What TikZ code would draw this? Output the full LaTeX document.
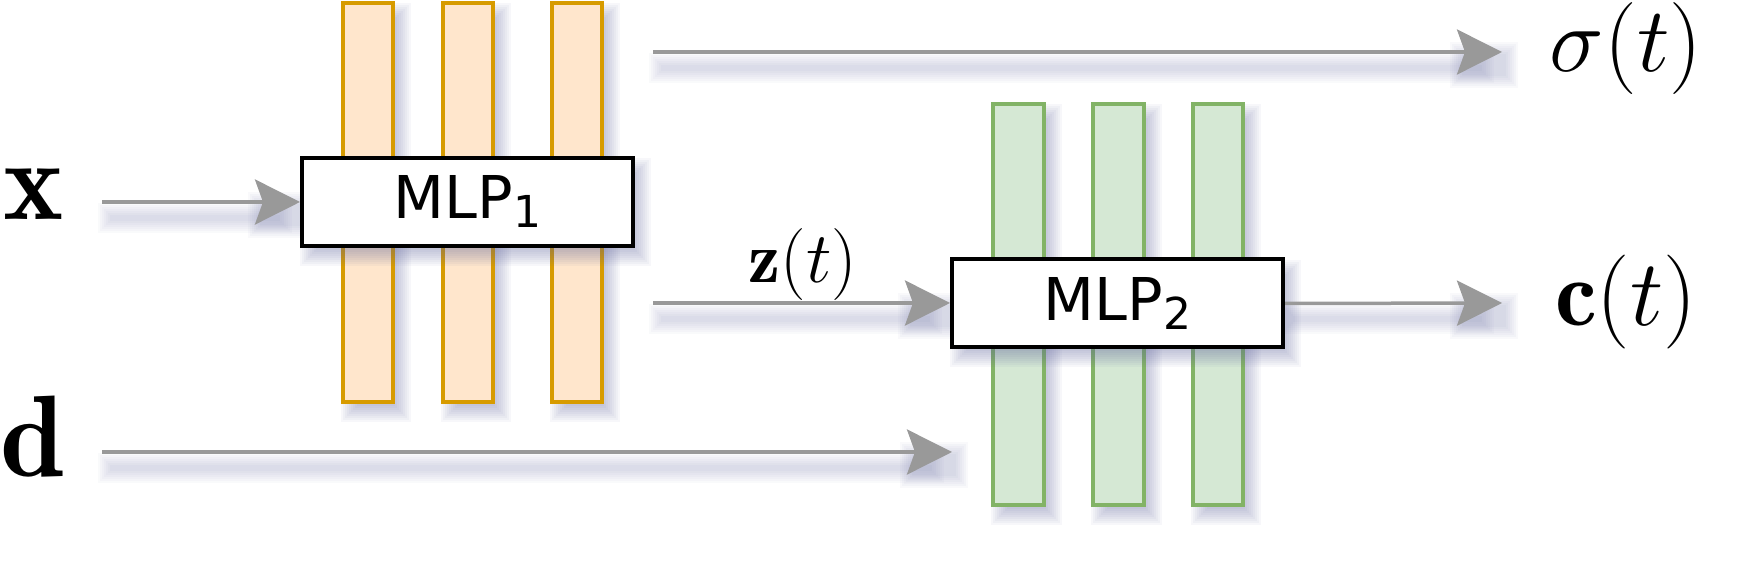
\documentclass[tikz,border=0pt]{standalone}
\usepackage{fix-cm}
\usepackage{fontspec}
\newfontfamily\dejavu{DejaVu Sans}
\usetikzlibrary{arrows.meta}
\definecolor{orfill}{HTML}{FFE6CC}
\definecolor{ordraw}{HTML}{D79B00}
\definecolor{grfill}{HTML}{D5E8D4}
\definecolor{grdraw}{HTML}{82B366}
\definecolor{argray}{HTML}{999999}
\definecolor{shcol}{RGB}{95,100,155}
\newcommand\blurrect[4]{%
  \foreach \d in {-6,-4,...,10}{%
    \fill[shcol, opacity=0.05] ({#1-(\d)},{#2-(\d)}) rectangle ({#3+(\d)},{#4+(\d)});
  }}
\newcommand\lineshadow[3]{% x1, x2(tip), y
  \foreach \d in {0,2,...,12}{%
    \fill[shcol, opacity=0.035] ({#1+8-(\d)},{#3+13-(\d)}) rectangle ({#2-20+(\d)},{#3+19+(\d)});
    \fill[shcol, opacity=0.04] ({#2-40-(\d)},{#3+2-(\d)}) rectangle ({#2+4+(\d)},{#3+24+(\d)});
  }}
\begin{document}
\begin{tikzpicture}[x=0.5pt,y=-0.5pt,
  orbar/.style={draw=ordraw, fill=orfill, line width=2pt},
  grbar/.style={draw=grdraw, fill=grfill, line width=2pt},
  mlp/.style={draw=black, fill=white, line width=2pt, minimum width=165.5pt,
    minimum height=44pt, inner sep=0pt, font=\dejavu\fontsize{29.5}{30}\selectfont},
  conn/.style={draw=argray, line width=1.75pt,
    -{Stealth[length=22.5pt,width=22.5pt,inset=4pt]}},
  lbl/.style={inner sep=0pt, anchor=base}]
\useasboundingbox (0,0) rectangle (1760,565);

% connector shadows
\lineshadow{102}{300}{202}
\lineshadow{653}{1502}{52}
\lineshadow{653}{950}{303}
\lineshadow{102}{952}{452}
\lineshadow{1285}{1502}{303}

% orange bars
\foreach \a/\b in {343/393,443/493,552/602}{%
  \blurrect{\a+8}{3+10}{\b+8}{402+10}
  \draw[orbar] (\a,3) rectangle (\b,402);
}
% green bars
\foreach \a/\b in {993/1044,1093/1144,1193/1243}{%
  \blurrect{\a+8}{104+10}{\b+8}{505+10}
  \draw[grbar] (\a,104) rectangle (\b,505);
}

% box shadows
\blurrect{302+8}{158+10}{633+8}{246+10}
\blurrect{952+8}{260+10}{1283+8}{347+10}

\node[mlp] (m1) at (467.5,202) {MLP\raisebox{-4.5pt}{\fontsize{22}{22}\selectfont 1}};
\node[mlp] (m2) at (1117.5,303.5) {MLP\raisebox{-4.5pt}{\fontsize{22}{22}\selectfont 2}};

% labels
\node[lbl, font=\fontsize{57}{57}\selectfont] (lx) at (34,220) {$\mathbf{x}$};
\node[lbl, font=\fontsize{58}{58}\selectfont] (ld) at (33,477) {$\mathbf{d}$};
\node[lbl, font=\fontsize{46}{46}\selectfont] (ls) at (1626,72) {$\sigma(t)$};
\node[lbl, font=\fontsize{47}{47}\selectfont] (lc) at (1626,326) {$\mathbf{c}(t)$};
\node[lbl, font=\fontsize{36}{36}\selectfont] (lz) at (803,283) {$\mathbf{z}(t)$};

% connector end points
\coordinate (xs) at (102,202);
\coordinate (ss) at (653,52);
\coordinate (se) at (1502,52);
\coordinate (zs) at (653,303);
\coordinate (ds) at (102,452);
\coordinate (de) at (952,452);
\coordinate (ce) at (1502,303);

\draw[conn] (xs) -- (m1.west);
\draw[conn] (ss) -- (se);
\draw[conn] (zs) -- (zs -| m2.west);
\draw[conn] (ds) -- (de);
\draw[conn] (m2.east) -- (ce);
\end{tikzpicture}
\end{document}
